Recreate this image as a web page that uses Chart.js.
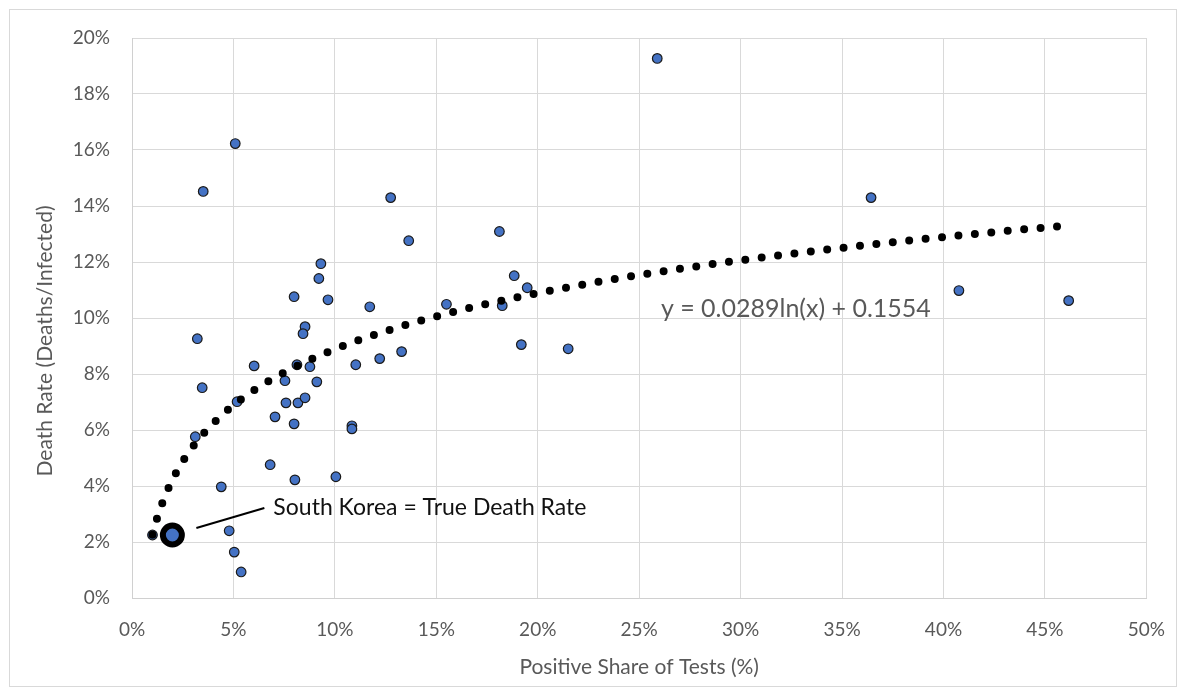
<!DOCTYPE html>
<html>
<head>
<meta charset="utf-8">
<script src="https://cdn.jsdelivr.net/npm/chart.js@4.4.1/dist/chart.umd.min.js"></script>
<style>
    html, body { margin: 0; padding: 0; background: #fff; }
    #wrap { position: relative; width: 1185px; height: 694px; }
    #frame { position: absolute; left: 9px; top: 9px; width: 1166px; height: 676px; border: 1px solid #d9d9d9; pointer-events: none; }
</style>
</head>
<body>
<div id="wrap">
    <canvas id="death_rate_chart" width="1185" height="694"></canvas>
    <div id="frame"></div>
</div>
<script>
// positive share of tests (%) and death rate (%) per country
const shareOfTests = [25.89, 5.09, 3.51, 12.75, 36.43, 18.11, 13.64, 9.31, 9.21, 18.84,
    19.48, 40.76, 46.17, 7.99, 9.66, 11.72, 15.50, 18.25, 8.53, 8.43,
    3.22, 19.19, 21.50, 13.29, 12.21, 6.02, 8.13, 8.77, 11.03, 3.46,
    7.54, 9.11, 5.18, 7.59, 8.18, 8.53, 7.05, 7.99, 10.84, 10.84,
    3.12, 6.81, 8.03, 10.05, 4.40, 1.01, 4.79, 5.04, 5.38];
const deathRate = [19.27, 16.23, 14.52, 14.30, 14.30, 13.09, 12.76, 11.94, 11.41, 11.51,
    11.08, 10.98, 10.62, 10.76, 10.65, 10.40, 10.49, 10.44, 9.69, 9.44,
    9.26, 9.05, 8.90, 8.80, 8.55, 8.29, 8.33, 8.26, 8.33, 7.51,
    7.76, 7.72, 7.01, 6.97, 6.97, 7.15, 6.47, 6.22, 6.15, 6.04,
    5.76, 4.76, 4.22, 4.33, 3.97, 2.25, 2.40, 1.64, 0.93];

const koreaPoint = [1.99, 2.25];
const koreaLabel = "South Korea = True Death Rate";

// log trendline y = a*ln(x) + b (fractions)
const trendCoef = [0.0289, 0.1554];
const trendLabel = "y = 0.0289ln(x) + 0.1554";
const trendLabelAt = [26.07, 10.33];

const xTitle = "Positive Share of Tests (%)";
const yTitle = "Death Rate (Deaths/Infected)";

const textGrey = "#595959";
const fontName = "Lato";

const points = shareOfTests.map((v, i) => ({x: v, y: deathRate[i]}));

const extrasPlugin = {
    id: "extras",
    afterDatasetsDraw(chart) {
        const ctx = chart.ctx;
        const xs = chart.scales.x;
        const ys = chart.scales.y;
        const all = shareOfTests.concat([koreaPoint[0]]);
        const lo = Math.min(...all);
        const hi = Math.max(...all);

        // dotted trendline
        ctx.save();
        ctx.beginPath();
        for (let i = 0; i <= 400; i++) {
            const xv = lo + (hi - lo) * i / 400;
            const yv = 100 * (trendCoef[0] * Math.log(xv / 100) + trendCoef[1]);
            const px = xs.getPixelForValue(xv);
            const py = ys.getPixelForValue(yv);
            if (i === 0) ctx.moveTo(px, py); else ctx.lineTo(px, py);
        }
        ctx.lineWidth = 8;
        ctx.lineCap = "round";
        ctx.setLineDash([0, 16.5]);
        ctx.strokeStyle = "#000";
        ctx.stroke();
        ctx.restore();

        // trendline equation
        ctx.save();
        ctx.font = "25px " + fontName;
        ctx.fillStyle = textGrey;
        ctx.textBaseline = "middle";
        ctx.textAlign = "left";
        ctx.fillText(trendLabel, xs.getPixelForValue(trendLabelAt[0]), ys.getPixelForValue(trendLabelAt[1]));
        ctx.restore();

        // South Korea callout
        const kx = xs.getPixelForValue(koreaPoint[0]);
        const ky = ys.getPixelForValue(koreaPoint[1]);
        ctx.save();
        ctx.beginPath();
        ctx.moveTo(kx + 24, ky - 7);
        ctx.lineTo(kx + 92, ky - 27);
        ctx.lineWidth = 2;
        ctx.strokeStyle = "#000";
        ctx.stroke();
        ctx.font = "23px " + fontName;
        ctx.fillStyle = "#111";
        ctx.textBaseline = "middle";
        ctx.fillText(koreaLabel, kx + 101, ky - 27);
        ctx.restore();
    },
    afterDraw(chart) {
        const ctx = chart.ctx;
        const area = chart.chartArea;
        ctx.save();
        ctx.font = "21px " + fontName;
        ctx.fillStyle = textGrey;
        ctx.textAlign = "center";
        ctx.textBaseline = "middle";
        ctx.fillText(xTitle, (area.left + area.right) / 2, 667);
        ctx.translate(45, 341);
        ctx.rotate(-Math.PI / 2);
        ctx.fillText(yTitle, 0, 0);
        ctx.restore();
    }
};

let ctx = document.getElementById("death_rate_chart").getContext("2d");
const chart = new Chart(ctx, {
    type: "scatter",
    data: {
        datasets: [
            {
                data: points,
                backgroundColor: "#4472C4",
                borderColor: "#1a1a1a",
                borderWidth: 1.2,
                pointRadius: 4.8,
                pointHoverRadius: 4.8
            },
            {
                data: [{x: koreaPoint[0], y: koreaPoint[1]}],
                backgroundColor: "#4472C4",
                borderColor: "#000",
                borderWidth: 6,
                pointRadius: 9.5,
                pointHoverRadius: 9.5
            }
        ]
    },
    options: {
        responsive: false,
        animation: false,
        layout: {
            padding: {left: 0, top: 38, right: 35, bottom: 0}
        },
        plugins: {
            legend: {display: false},
            tooltip: {enabled: false}
        },
        scales: {
            x: {
                type: "linear",
                min: 0,
                max: 50,
                afterFit: (scale) => { scale.height = 96; },
                grid: {color: "#d9d9d9", drawTicks: false},
                border: {color: "#d0d0d0"},
                ticks: {
                    stepSize: 5,
                    padding: 20,
                    color: textGrey,
                    font: {family: fontName, size: 19},
                    callback: (v) => v + "%"
                }
            },
            y: {
                type: "linear",
                min: 0,
                max: 20,
                afterFit: (scale) => { scale.width = 132; },
                grid: {color: "#d9d9d9", drawTicks: false},
                border: {color: "#d0d0d0"},
                ticks: {
                    stepSize: 2,
                    padding: 22,
                    color: textGrey,
                    font: {family: fontName, size: 19},
                    callback: (v) => v + "%"
                }
            }
        }
    },
    plugins: [extrasPlugin]
});
</script>
</body>
</html>
